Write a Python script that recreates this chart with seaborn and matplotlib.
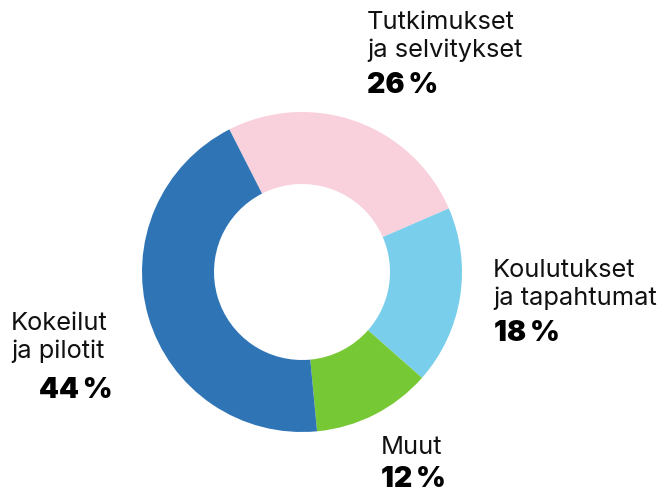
import matplotlib
matplotlib.use("Agg")
import matplotlib.pyplot as plt
import seaborn as sns

categories = ["Tutkimukset\nja selvitykset", "Koulutukset\nja tapahtumat", "Muut", "Kokeilut\nja pilotit"]
shares = [26, 18, 12, 44]
colors = ["#F9D1DC", "#79CEEB", "#77C835", "#2F75B5"]

sns.set_theme(style="white")
plt.rcParams["font.family"] = ["Inter", "DejaVu Sans"]

W, H = 665, 493
fig = plt.figure(figsize=(W / 100, H / 100), dpi=100)

# donut centred at (302, 272) px, outer radius 160 px
cx, cy, r = 302, 272, 160
ax = fig.add_axes([(cx - r) / W, (H - cy - r) / H, 2 * r / W, 2 * r / H])
ax.pie(shares, colors=colors, startangle=117, counterclock=False,
       wedgeprops=dict(width=0.45, linewidth=0), radius=1)
ax.set_xlim(-1, 1)
ax.set_ylim(-1, 1)
ax.set_aspect("equal")
ax.axis("off")

# label anchors (left, top) in pixels
label_pos = [(367, 11), (493, 259), (381, 436), (11, 312)]
pct_pos = [(367, 72), (494, 320), (381, 466), (39, 377)]

for cat, val, (lx, ly), (px, py) in zip(categories, shares, label_pos, pct_pos):
    fig.text(lx / W, 1 - ly / H, cat, ha="left", va="top", fontsize=18.3,
             color="#111111", linespacing=1.25)
    fig.text(px / W, 1 - py / H, f"{val}\u2009%", ha="left", va="top", fontsize=20.5,
             fontweight="black", color="#000000")

fig.savefig("out.png", dpi=100)
